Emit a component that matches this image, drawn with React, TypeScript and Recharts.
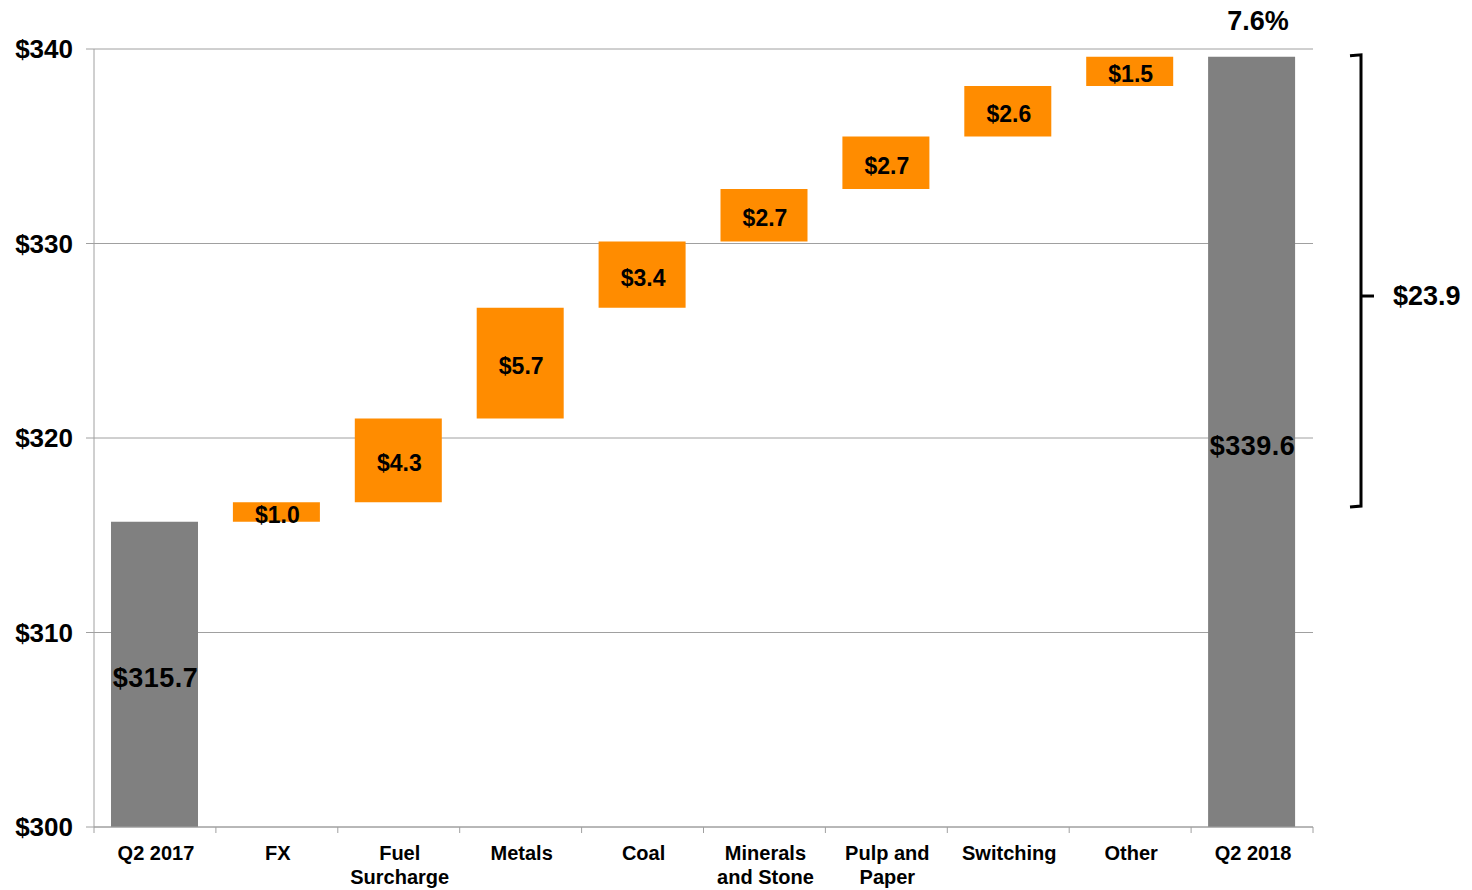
import { BarChart, Bar, XAxis, YAxis, CartesianGrid, Cell, LabelList } from 'recharts'

const categories = [
  'Q2 2017', 'FX', 'Fuel\nSurcharge', 'Metals', 'Coal',
  'Minerals\nand Stone', 'Pulp and\nPaper', 'Switching', 'Other', 'Q2 2018',
]
const startTotal = 315.7
const endTotal = 339.6
const changes = [1.0, 4.3, 5.7, 3.4, 2.7, 2.7, 2.6, 1.5]
const yTicks = [300, 310, 320, 330, 340]
const growthLabel = '7.6%'
const totalChange = 23.9
// bracket span on the value axis (annotation only)
const bracketFrom = 316.5
const bracketTo = 339.7
const bracketMid = 327.3

const W = 1472
const H = 890
const MARGIN = { top: 49, right: 159, bottom: 0, left: 0 }
const Y_W = 94
const X_H = 63
const PLOT_W = W - MARGIN.left - MARGIN.right - Y_W
const PLOT_H = H - MARGIN.top - MARGIN.bottom - X_H
const Y_MIN = yTicks[0]
const Y_MAX = yTicks[yTicks.length - 1]

const GRAY = '#808080'
const ORANGE = '#FF8C00'
const LINE = '#a0a0a0'
const FONT = '"Liberation Sans", Arial, Helvetica, sans-serif'

let running = startTotal
const rows = categories.map((name, i) => {
  if (i === 0) return { name, range: [Y_MIN, startTotal], amount: startTotal, total: true }
  if (i === categories.length - 1) return { name, range: [Y_MIN, endTotal], amount: endTotal, total: true }
  const d = changes[i - 1]
  const low = running
  running = Math.round((running + d) * 10) / 10
  return { name, range: [low, running], amount: d, total: false }
})

const yPix = (v: number) => MARGIN.top + ((Y_MAX - v) / (Y_MAX - Y_MIN)) * PLOT_H

function CatTick({ x, y, payload, index }: any) {
  const band = PLOT_W / categories.length
  const lines = String(payload.value).split('\n')
  return (
    <g>
      <line x1={x - band / 2} x2={x - band / 2} y1={y} y2={y + 6} stroke={LINE} />
      {index === categories.length - 1 && (
        <line x1={x + band / 2} x2={x + band / 2} y1={y} y2={y + 6} stroke={LINE} />
      )}
      <text x={x + 1} y={y} textAnchor="middle" fontSize={20} fontWeight={700} fill="#000" fontFamily={FONT}>
        {lines.map((l, i) => (
          <tspan key={i} x={x + 1} dy={i === 0 ? 33 : 24}>{l}</tspan>
        ))}
      </text>
    </g>
  )
}

function BarValue({ x, y, width, height, value, index }: any) {
  const isTotal = rows[index]?.total
  return (
    <text
      x={x + width / 2 + 1}
      y={y + height / 2}
      dy={isTotal ? 13 : 11}
      textAnchor="middle"
      fontSize={isTotal ? 27 : 23}
      letterSpacing={isTotal ? 0.5 : 0}
      fontWeight={700}
      fill="#000"
      fontFamily={FONT}
    >
      ${Number(value).toFixed(1)}
    </text>
  )
}

export default function App() {
  const bx = 1361
  const lastCenter = MARGIN.left + Y_W + PLOT_W * (categories.length - 0.5) / categories.length
  return (
    <div style={{ position: 'absolute', left: 0, top: 0, width: W, height: H, background: '#fff', fontFamily: FONT }}>
      <BarChart width={W} height={H} data={rows} margin={MARGIN} barSize={87}>
        <CartesianGrid vertical={false} stroke={LINE} fill="none" />
        <XAxis
          dataKey="name"
          interval={0}
          height={X_H}
          tick={<CatTick />}
          tickLine={false}
          tickSize={0}
          tickMargin={0}
          axisLine={{ stroke: LINE }}
        />
        <YAxis
          type="number"
          domain={[Y_MIN, Y_MAX]}
          ticks={yTicks}
          allowDataOverflow
          width={Y_W}
          tickSize={8}
          tickMargin={13}
          tickLine={{ stroke: LINE }}
          axisLine={{ stroke: LINE }}
          tickFormatter={(v: number) => `$${v}`}
          tick={{ fontSize: 26, fontWeight: 700, fill: '#000', fontFamily: FONT }}
        />
        <Bar dataKey="range" isAnimationActive={false}>
          {rows.map((r, i) => (
            <Cell key={i} fill={r.total ? GRAY : ORANGE} />
          ))}
          <LabelList dataKey="amount" content={<BarValue />} />
        </Bar>
      </BarChart>
      <svg width={W} height={H} style={{ position: 'absolute', left: 0, top: 0, pointerEvents: 'none' }}>
        <text x={lastCenter + 6} y={30} textAnchor="middle" fontSize={27} fontWeight={700} fill="#000" fontFamily={FONT}>
          {growthLabel}
        </text>
        <path
          d={`M${bx - 11} ${yPix(bracketTo) + 1} L${bx} ${yPix(bracketTo)} L${bx} ${yPix(bracketFrom)} L${bx - 11} ${yPix(bracketFrom) + 1}`}
          fill="none"
          stroke="#000"
          strokeWidth={3}
        />
        <line x1={bx} x2={bx + 13} y1={yPix(bracketMid)} y2={yPix(bracketMid)} stroke="#000" strokeWidth={3} />
        <text x={1393} y={yPix(bracketMid) + 9} fontSize={27} fontWeight={700} fill="#000" fontFamily={FONT}>
          ${totalChange.toFixed(1)}
        </text>
      </svg>
    </div>
  )
}
